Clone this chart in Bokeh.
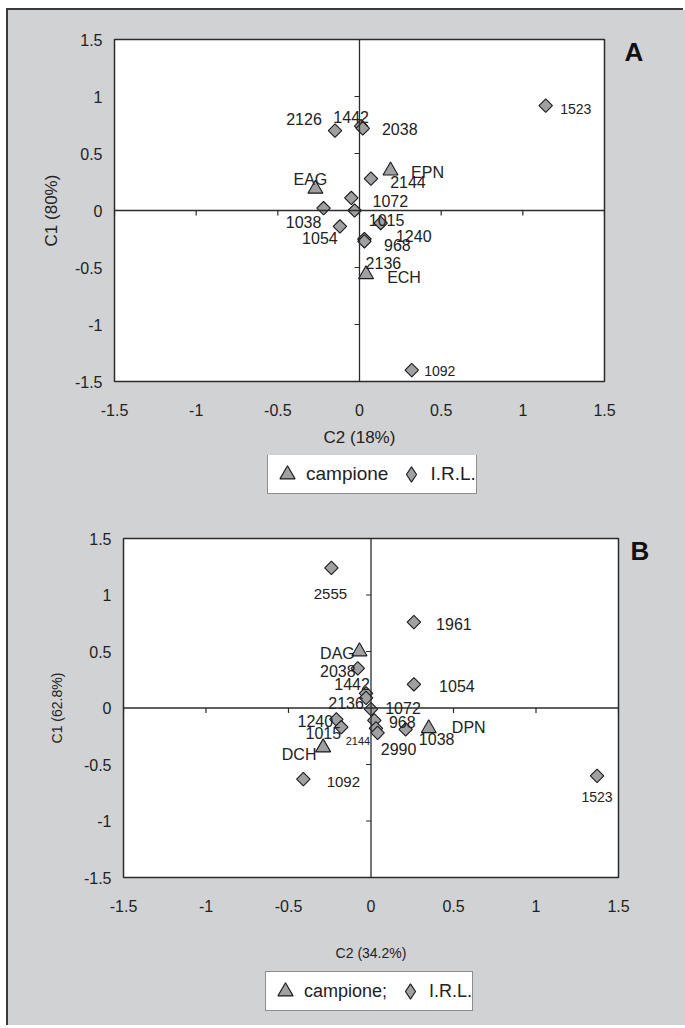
from math import pi
from bokeh.plotting import figure
from bokeh.models import (ColumnDataSource, Range1d, Span, Legend, LegendItem, LinearAxis,
                          FixedTicker, NumeralTickFormatter)
from bokeh.embed import file_html
from bokeh.resources import INLINE
from bokeh.core.properties import value

# ---------------- data ----------------
TICKS = [-1.5, -1.0, -0.5, 0.0, 0.5, 1.0, 1.5]

# Panel A  (x = C2, y = C1)
a_ref_names = ["EAG", "EPN", "ECH"]
a_ref_c2 = [-0.27, 0.19, 0.04]
a_ref_c1 = [0.19, 0.35, -0.56]

a_irl_names = ["2126", "1442", "2038", "2144", "1072", "1038", "1015",
               "1054", "1240", "968", "2136", "1092", "1523"]
a_irl_c2 = [-0.15, 0.01, 0.02, 0.07, -0.05, -0.22, -0.03,
            -0.12, 0.13, 0.03, 0.03, 0.32, 1.14]
a_irl_c1 = [0.70, 0.74, 0.72, 0.28, 0.11, 0.02, 0.00,
            -0.14, -0.11, -0.25, -0.27, -1.40, 0.92]

# Panel B
b_ref_names = ["DAG", "DPN", "DCH"]
b_ref_c2 = [-0.07, 0.35, -0.29]
b_ref_c1 = [0.50, -0.18, -0.35]

b_irl_names = ["2555", "1961", "2038", "1442", "2136", "1072", "968", "2144",
               "2990", "1240", "1015", "1038", "1054", "1092", "1523"]
b_irl_c2 = [-0.24, 0.26, -0.08, -0.03, -0.03, 0.00, 0.02, 0.03,
            0.04, -0.21, -0.18, 0.21, 0.26, -0.41, 1.37]
b_irl_c1 = [1.24, 0.76, 0.35, 0.13, 0.09, -0.01, -0.11, -0.18,
            -0.22, -0.10, -0.17, -0.19, 0.21, -0.63, -0.60]

# ---------------- label placement (screen px, dx right / dy down) ----------------
a_ref_dx = [-5, 37, 38]
a_ref_dy = [-9, 2, 3]
a_irl_dx = [-31, -10, 37, 37, 39, -20, 32, -20, 33, 33, 19, 28, 30]
a_irl_dy = [-12, -9, 1, 3, 3, 14, 9, 12, 13, 6, 22, 1, 3]
a_irl_fs = ["16px"] * 11 + ["14px", "14px"]

b_ref_dx = [-22, 40, -24]
b_ref_dy = [2, -1, 7]
b_irl_dx = [-1, 40, -20, -14, -20, 32, 28, -18, 21, -21, -18, 31, 43, 40, 0]
b_irl_dy = [26, 2, 3, -9, 5, -1, 2, 13, 16, 2, 6, 10, 2, 3, 21]
b_irl_fs = ["15px", "16px", "16px", "16px", "16px", "16px", "16px", "11px",
            "16px", "16px", "16px", "16px", "16px", "15px", "14px"]

# ---------------- styles ----------------
BG = "#d1d2d4"
AX = "#2b2b2b"
TXT = "#222222"
MFILL = "#a0a0a3"
FONT = "Liberation Sans"
MSTYLE = dict(fill_color=MFILL, line_color="#1a1a1a", line_width=1.1)
W = 677
LEFT_EDGE = "-2px 0 0 0 #3a3a3a"


def panel(ref_names, ref_x, ref_y, ref_dx, ref_dy,
          irl_names, irl_x, irl_y, irl_dx, irl_dy, irl_fs,
          xlabel, ylabel, letter, lay):
    p = figure(width=W, height=lay["h"],
               x_range=Range1d(-1.5, 1.5), y_range=Range1d(-1.5, 1.5),
               output_backend="svg", toolbar_location=None,
               min_border_left=lay["l"], min_border_right=lay["r"],
               min_border_top=lay["t"], min_border_bottom=lay["b"],
               margin=lay["margin"])
    p.styles = {"box-shadow": lay["shadow"], "background-color": BG}
    p.background_fill_color = "white"
    p.border_fill_color = BG
    p.outline_line_color = AX
    p.outline_line_width = 1.5
    p.grid.visible = False

    for ax in (p.xaxis[0], p.yaxis[0]):
        ax.ticker = FixedTicker(ticks=TICKS)
        ax.formatter = NumeralTickFormatter(format="0.[0]")
        ax.major_tick_out = 0
        ax.major_tick_in = 0
        ax.minor_tick_out = 0
        ax.minor_tick_in = 0
        ax.axis_line_color = None
        ax.major_label_text_font = FONT
        ax.major_label_text_font_size = "16px"
        ax.major_label_text_color = TXT
        ax.axis_label_text_font = FONT
        ax.axis_label_text_font_style = "normal"
        ax.axis_label_text_color = TXT
    p.xaxis.axis_label = xlabel
    p.yaxis.axis_label = ylabel
    p.xaxis.axis_label_text_font_size = lay["xl_fs"]
    p.yaxis.axis_label_text_font_size = lay["yl_fs"]
    p.xaxis.major_label_standoff = lay["x_std"]
    p.xaxis.axis_label_standoff = lay["xl_std"]
    p.yaxis.major_label_standoff = 12
    p.yaxis.axis_label_standoff = lay["yl_std"]

    # panel letter, shown as the single label of an axis on the right side
    let_axis = LinearAxis(ticker=FixedTicker(ticks=[lay["let_y"]]),
                          major_label_overrides={lay["let_y"]: letter},
                          major_tick_out=0, major_tick_in=0,
                          minor_tick_out=0, minor_tick_in=0, axis_line_color=None,
                          major_label_text_font=FONT, major_label_text_font_size="26px",
                          major_label_text_font_style="bold",
                          major_label_text_color="#111111",
                          major_label_standoff=lay["let_std"])
    p.add_layout(let_axis, "right")

    # cross lines through the origin, with their small tick marks
    p.add_layout(Span(location=0, dimension="height", line_color=AX, line_width=1.3))
    p.add_layout(Span(location=0, dimension="width", line_color=AX, line_width=1.3))
    tl_y = 5 * 3.0 / (lay["h"] - lay["t"] - lay["b"])
    tl_x = 5 * 3.0 / (W - lay["l"] - lay["r"])
    p.segment(x0=TICKS, y0=0, x1=TICKS, y1=-tl_y, line_color=AX, line_width=1.2)
    p.segment(x0=0, y0=TICKS, x1=-tl_x, y1=TICKS, line_color=AX, line_width=1.2)

    ref_src = ColumnDataSource(dict(x=ref_x, y=ref_y, name=ref_names, dx=ref_dx, dy=ref_dy))
    irl_src = ColumnDataSource(dict(x=irl_x, y=irl_y, name=irl_names, dx=irl_dx, dy=irl_dy, fs=irl_fs))

    p.scatter("x", "y", source=irl_src, marker="square", angle=pi / 4, size=9.5, **MSTYLE)
    p.scatter("x", "y", source=ref_src, marker="triangle", size=15, **MSTYLE)

    p.text("x", "y", text="name", source=irl_src, x_offset="dx", y_offset="dy",
           text_align="center", text_baseline="middle", text_font=value(FONT),
           text_font_size="fs", text_color=TXT)
    p.text("x", "y", text="name", source=ref_src, x_offset="dx", y_offset="dy",
           text_align="center", text_baseline="middle", text_font=value(FONT),
           text_font_size="16px", text_color=TXT)
    return p


def legend_strip(ref_x, ref_y, irl_x, irl_y, lay):
    f = figure(width=W, height=lay["h"], x_range=Range1d(-1.5, 1.5), y_range=Range1d(-1.5, 1.5),
               output_backend="svg", toolbar_location=None,
               x_axis_location=None, y_axis_location=None, min_border=0,
               margin=lay["margin"])
    f.styles = {"box-shadow": LEFT_EDGE, "background-color": BG}
    f.outline_line_color = None
    f.background_fill_color = BG
    f.border_fill_color = BG
    f.grid.visible = False
    r1 = f.scatter(x=ref_x, y=ref_y, marker="triangle", size=15, visible=False, **MSTYLE)
    r2 = f.scatter(x=irl_x, y=irl_y, marker="diamond", size=14, visible=False, **MSTYLE)
    leg = Legend(items=[LegendItem(label=lay["leg1"], renderers=[r1]),
                        LegendItem(label="I.R.L.", renderers=[r2])],
                 orientation="horizontal", location=lay["loc"],
                 border_line_color="#1a1a1a", border_line_width=1.5,
                 background_fill_color="white", background_fill_alpha=1.0,
                 inactive_fill_alpha=0.0,
                 label_text_font=FONT, label_text_font_size=lay["fs"],
                 label_text_color=TXT,
                 glyph_width=38, glyph_height=38, padding=0, spacing=4,
                 label_standoff=0, margin=0)
    f.add_layout(leg, "center")
    return f


layA = dict(h=445, l=106, r=81, t=29, b=74, margin=(10, 0, 0, 8),
            shadow=LEFT_EDGE + ", -2px -2px 0 0 #3a3a3a",
            xl_fs="17px", yl_fs="17px", x_std=22, xl_std=9, yl_std=11,
            let_y=1.39, let_std=20)
legA = dict(h=60, margin=(0, 0, 0, 8), loc=(259, 21), leg1="campione", fs="19px")
layB = dict(h=450, l=115, r=67, t=23, b=88, margin=(0, 0, 0, 8),
            shadow=LEFT_EDGE,
            xl_fs="14px", yl_fs="14px", x_std=22, xl_std=30, yl_std=16,
            let_y=1.39, let_std=12)
legB = dict(h=60, margin=(0, 0, 0, 8), loc=(257, 14), leg1="campione;", fs="18px")

pA = panel(a_ref_names, a_ref_c2, a_ref_c1, a_ref_dx, a_ref_dy,
           a_irl_names, a_irl_c2, a_irl_c1, a_irl_dx, a_irl_dy, a_irl_fs,
           "C2 (18%)", "C1 (80%)", "A", layA)
lA = legend_strip(a_ref_c2, a_ref_c1, a_irl_c2, a_irl_c1, legA)
pB = panel(b_ref_names, b_ref_c2, b_ref_c1, b_ref_dx, b_ref_dy,
           b_irl_names, b_irl_c2, b_irl_c1, b_irl_dx, b_irl_dy, b_irl_fs,
           "C2 (34.2%)", "C1 (62.8%)", "B", layB)
lB = legend_strip(b_ref_c2, b_ref_c1, b_irl_c2, b_irl_c1, legB)

open("out.html", "w").write(file_html([pA, lA, pB, lB], INLINE))
